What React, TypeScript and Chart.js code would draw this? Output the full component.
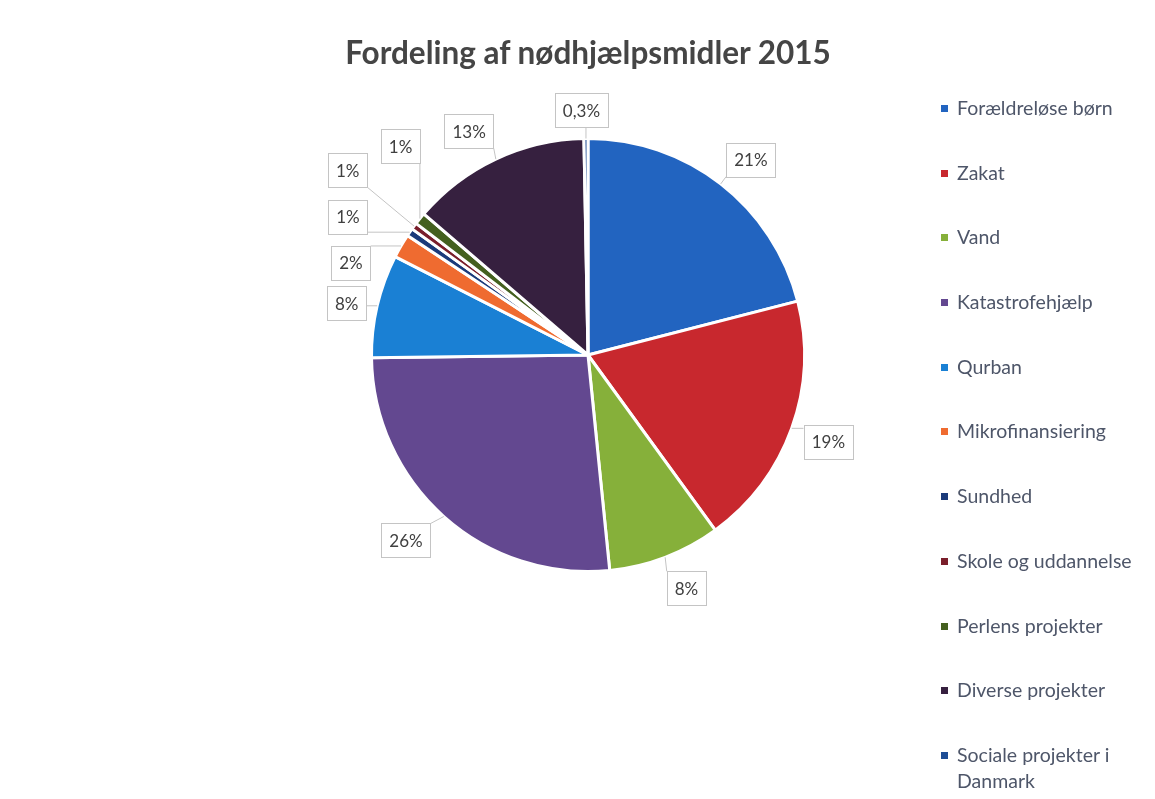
import React, { useEffect, useRef } from "react";
import { Chart, registerables } from "chart.js";

Chart.register(...registerables);

const chartTitle = "Fordeling af nødhjælpsmidler 2015";
const categories = [
  "Forældreløse børn",
  "Zakat",
  "Vand",
  "Katastrofehjælp",
  "Qurban",
  "Mikrofinansiering",
  "Sundhed",
  "Skole og uddannelse",
  "Perlens projekter",
  "Diverse projekter",
  "Sociale projekter i Danmark",
];
const shares = [21, 19, 8.4, 26.4, 7.7, 1.8, 0.6, 0.5, 0.9, 13.4, 0.3];
const sliceColors = [
  "#2264c0",
  "#c8282e",
  "#86b03a",
  "#634890",
  "#1a80d4",
  "#ef6b30",
  "#1b3a7a",
  "#7a1e2b",
  "#44601f",
  "#36203f",
  "#1e4d95",
];
// label placement tweaks (style only): angular shift in degrees, radius factor
const labelAngleShift = [2, 0, -2, 2.7, -1, -9, -4.6, 1, 9, -2.8, -1];
const labelRadius = [1.175, 1.18, 1.17, 1.2, 1.14, 1.175, 1.28, 1.4, 1.295, 1.17, 1.13];

function formatShare(v: number, total: number): string {
  const p = (v / total) * 100;
  if (p < 0.5) return p.toFixed(1).replace(".", ",") + "%";
  return Math.round(p) + "%";
}

const boxLabelPlugin = {
  id: "boxLabels",
  afterDatasetsDraw(chart: any) {
    const ctx = chart.ctx as CanvasRenderingContext2D;
    const meta = chart.getDatasetMeta(0);
    const data = chart.data.datasets[0].data as number[];
    const total = data.reduce((a, b) => a + b, 0);
    ctx.save();
    ctx.font = "17px Lato";
    const boxes: any[] = [];
    meta.data.forEach((arc: any, i: number) => {
      const p = arc.getProps(["x", "y", "startAngle", "endAngle", "outerRadius"], true);
      const mid = (p.startAngle + p.endAngle) / 2;
      const a = mid + (labelAngleShift[i] * Math.PI) / 180;
      const lx = p.x + Math.cos(a) * p.outerRadius * labelRadius[i];
      const ly = p.y + Math.sin(a) * p.outerRadius * labelRadius[i];
      const text = formatShare(data[i], total);
      const tw = ctx.measureText(text).width;
      const w = tw + 16;
      const h = 34;
      const bx = lx - w / 2;
      const by = ly - h / 2;
      const ax = p.x + Math.cos(mid) * p.outerRadius;
      const ay = p.y + Math.sin(mid) * p.outerRadius;
      const nx = Math.max(bx, Math.min(ax, bx + w));
      const ny = Math.max(by, Math.min(ay, by + h));
      boxes.push({ text, bx, by, w, h, lx, ly, ax, ay, nx, ny });
    });
    ctx.strokeStyle = "#c4c4c4";
    ctx.lineWidth = 1;
    boxes.forEach((b) => {
      if (Math.hypot(b.nx - b.ax, b.ny - b.ay) > 4) {
        ctx.beginPath();
        ctx.moveTo(b.nx, b.ny);
        ctx.lineTo(b.ax, b.ay);
        ctx.stroke();
      }
    });
    boxes.forEach((b) => {
      ctx.fillStyle = "#ffffff";
      ctx.fillRect(b.bx, b.by, b.w, b.h);
      ctx.strokeStyle = "#c4c4c4";
      ctx.strokeRect(Math.round(b.bx) + 0.5, Math.round(b.by) + 0.5, Math.round(b.w), Math.round(b.h));
      ctx.fillStyle = "#404040";
      ctx.textAlign = "center";
      ctx.textBaseline = "middle";
      ctx.fillText(b.text, b.lx, b.ly + 1);
    });
    ctx.restore();
  },
};

export default function App() {
  const canvasRef = useRef<HTMLCanvasElement | null>(null);

  useEffect(() => {
    if (!canvasRef.current) return;
    const chart = new Chart(canvasRef.current, {
      type: "pie",
      data: {
        labels: categories,
        datasets: [
          {
            data: shares,
            backgroundColor: sliceColors,
            borderColor: "#ffffff",
            borderWidth: 3,
          },
        ],
      },
      options: {
        animation: false,
        responsive: true,
        maintainAspectRatio: false,
        layout: { padding: { left: 370, right: 349, top: 137, bottom: 226 } },
        plugins: {
          legend: { display: false },
          title: { display: false },
          tooltip: { enabled: false },
        },
      },
      plugins: [boxLabelPlugin],
    });
    return () => chart.destroy();
  }, []);

  return (
    <div
      style={{
        position: "absolute",
        left: 0,
        top: 0,
        width: 1155,
        height: 799,
        background: "#ffffff",
        overflow: "hidden",
      }}
    >
      <div style={{ position: "absolute", left: 0, top: 0, width: 1155, height: 799 }}>
        <canvas ref={canvasRef} />
      </div>
      <div
        style={{
          position: "absolute",
          left: 188,
          top: 34,
          width: 800,
          textAlign: "center",
          fontFamily: "Lato, sans-serif",
          fontWeight: 700,
          fontSize: 31.5,
          lineHeight: "36px",
          color: "#454545",
        }}
      >
        {chartTitle}
      </div>
      <div
        style={{
          position: "absolute",
          left: 938,
          top: 95,
          width: 215,
          fontFamily: "Lato, sans-serif",
          fontSize: 19.5,
          color: "#4e5669",
        }}
      >
        {categories.map((c, i) => (
          <div
            key={c}
            style={{
              display: "flex",
              alignItems: "flex-start",
              height: 64.7,
              lineHeight: "26px",
            }}
          >
            <span
              style={{
                display: "inline-block",
                width: 7,
                height: 7,
                marginTop: 10,
                marginLeft: 3,
                marginRight: 9,
                background: sliceColors[i],
                flex: "0 0 auto",
              }}
            />
            <span style={{ width: 185 }}>{c}</span>
          </div>
        ))}
      </div>
    </div>
  );
}
